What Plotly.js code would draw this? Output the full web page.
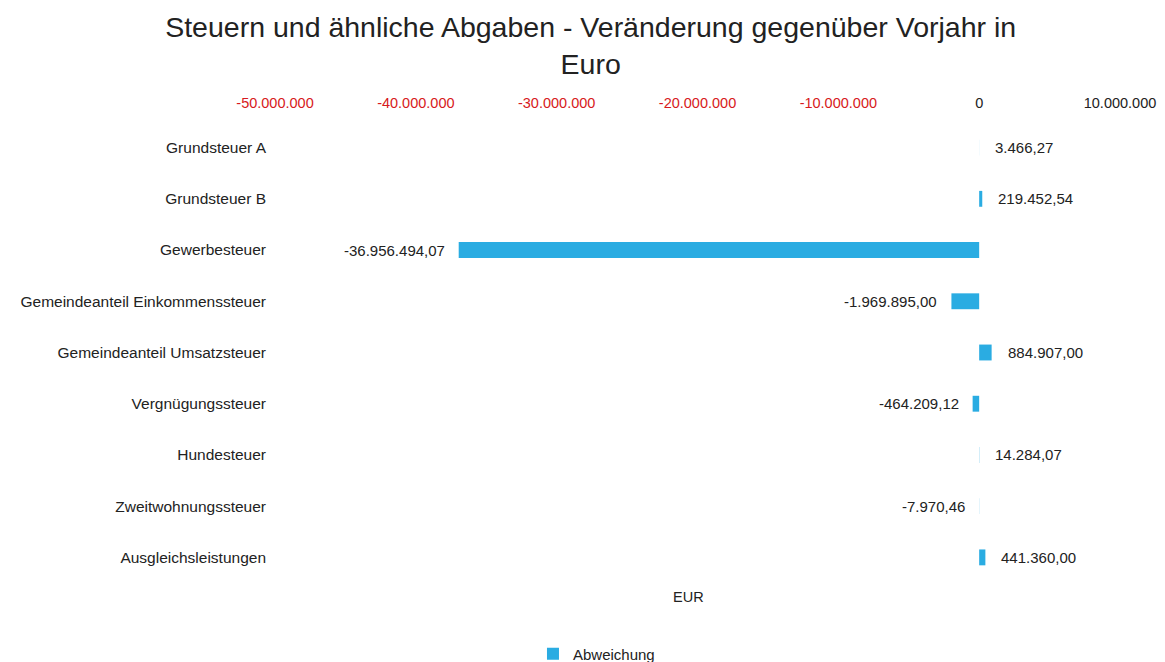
<!DOCTYPE html>
<html>
<head>
<meta charset="utf-8">
<script src="https://cdn.plot.ly/plotly-3.0.1.min.js"></script>
<style>html,body{margin:0;padding:0;background:#fff;}#chart{width:1165px;height:662px;}</style>
</head>
<body>
<div id="chart"></div>
<script>
const categories = ["Grundsteuer A","Grundsteuer B","Gewerbesteuer","Gemeindeanteil Einkommenssteuer","Gemeindeanteil Umsatzsteuer","Vergnügungssteuer","Hundesteuer","Zweitwohnungssteuer","Ausgleichsleistungen"];
const abweichung = [3466.27, 219452.54, -36956494.07, -1969895.00, 884907.00, -464209.12, 14284.07, -7970.46, 441360.00];
const tickValues = [-50000000,-40000000,-30000000,-20000000,-10000000,0,10000000];
const tickLabels = ["-50.000.000","-40.000.000","-30.000.000","-20.000.000","-10.000.000","0","10.000.000"];

const FONT = 'Liberation Sans, Arial, sans-serif';

function fmtDE(v){
  const neg = v < 0;
  const a = Math.abs(v);
  let [i, d] = a.toFixed(2).split(".");
  i = i.replace(/\B(?=(\d{3})+(?!\d))/g, ".");
  return (neg ? "-" : "") + i + "," + d;
}

const tickText = tickLabels.map((t, k) => tickValues[k] < 0 ? '<span style="color:#D71920">' + t + '</span>' : t);

const annotations = abweichung.map((v, k) => ({
  x: v, y: categories[k], xref: 'x', yref: 'y',
  text: fmtDE(v), showarrow: false,
  xanchor: v < 0 ? 'right' : 'left',
  xshift: v < 0 ? -12 : 14,
  font: {family: FONT, size: 15, color: '#222'}
}));
annotations.push({
  x: 0.489, y: -0.0304, xref: 'paper', yref: 'paper', yanchor: 'middle',
  text: 'EUR', showarrow: false,
  font: {family: FONT, size: 14.5, color: '#222'}
});

const trace = {
  type: 'bar', orientation: 'h',
  x: abweichung, y: categories,
  name: 'Abweichung',
  marker: {color: '#2AACE2'},
  hoverinfo: 'none'
};

const layout = {
  width: 1165, height: 662,
  margin: {l: 275, r: 45, t: 122, b: 79},
  paper_bgcolor: '#fff', plot_bgcolor: '#fff',
  title: {
    text: 'Steuern und ähnliche Abgaben - Veränderung gegenüber Vorjahr in<br>Euro',
    x: 0.507, xanchor: 'center', yref: 'container', y: 0.944, yanchor: 'middle',
    font: {family: FONT, size: 28.5, color: '#222'}
  },
  bargap: 0.69,
  xaxis: {
    side: 'top', range: [-50000000, 10000000],
    tickvals: tickValues, ticktext: tickText,
    showgrid: false, zeroline: false, showline: false, ticks: '',
    ticklabelstandoff: 10,
    tickfont: {family: FONT, size: 14.5, color: '#222'},
    fixedrange: true
  },
  yaxis: {
    type: 'category', autorange: 'reversed',
    showgrid: false, zeroline: false, showline: false, ticks: '',
    ticklabelstandoff: 8,
    tickfont: {family: FONT, size: 15.5, color: '#222'},
    fixedrange: true
  },
  showlegend: true,
  legend: {
    orientation: 'h', xref: 'container', x: 0.512, xanchor: 'center',
    yref: 'container', y: 0.012, yanchor: 'middle',
    font: {family: FONT, size: 15, color: '#222'}
  },
  annotations: annotations
};

Plotly.newPlot('chart', [trace], layout, {displayModeBar: false, staticPlot: true});
</script>
</body>
</html>
